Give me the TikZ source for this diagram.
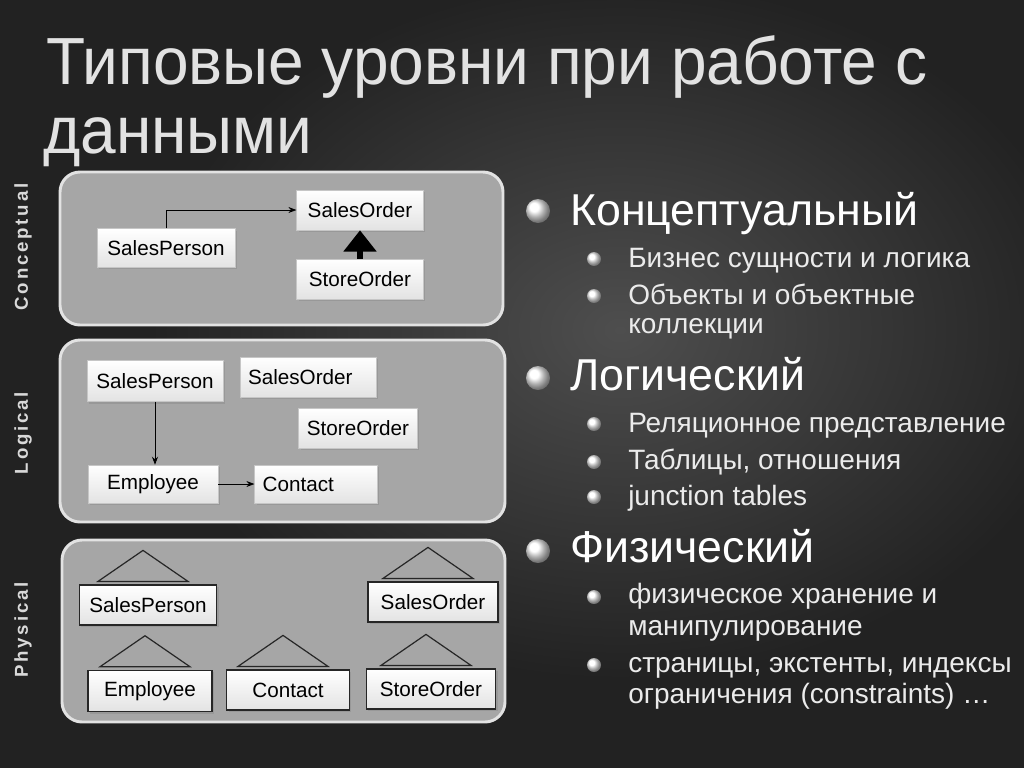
\documentclass[tikz,border=0pt]{standalone}
\usepackage{fontspec}
\setmainfont{Liberation Sans}
\newfontfamily\titlefont[FakeStretch=0.96]{Liberation Sans}
\newfontfamily\sidefont[LetterSpace=15]{Liberation Sans}
\usetikzlibrary{arrows.meta,shadows,calc}
\definecolor{bg}{HTML}{222222}
\definecolor{bglight}{HTML}{4E4E4E}
\definecolor{panelfill}{HTML}{A6A6A6}
\definecolor{panelborder}{HTML}{E2E2E2}
\definecolor{titlegray}{HTML}{E2E2E2}
\tikzset{
  panel/.style={fill=panelfill, draw=panelborder, line width=2.2pt, rounded corners=15pt},
  cls/.style={draw=gray!45, line width=0.4pt, top color=white, bottom color=gray!22,
    drop shadow={opacity=0.35, shadow xshift=1.5pt, shadow yshift=-1.5pt},
    font=\fontsize{15.5}{15.5}\selectfont, inner sep=0pt, minimum width=#1, minimum height=30pt},
  pcls/.style={cls=#1, draw=black!85, line width=0.9pt},
  ltext/.style={text width=#1, align=left},
  tri/.style={draw=black!85, line width=0.9pt, fill=panelfill, line join=miter},
  assoc/.style={-{Stealth[length=6pt,width=4.5pt]}, line width=0.6pt},
  side/.style={rotate=90, font=\sidefont\bfseries\fontsize{14}{14}\selectfont, text=white!85!black},
  lvlone/.style={anchor=base west, inner sep=0pt, text=white, font=\fontsize{33.5}{33.5}\selectfont},
  lvltwo/.style={anchor=base west, inner sep=0pt, text=white!92!black, font=\fontsize{21}{21}\selectfont},
  bigball/.style={ball color=white},
  titletext/.style={anchor=base west, inner sep=0pt, text=titlegray, font=\titlefont\fontsize{50}{50}\selectfont}
}
\begin{document}
\begin{tikzpicture}[x=0.75pt,y=-0.75pt]
\useasboundingbox (0,0) rectangle (1024,768);
\clip (0,0) rectangle (1024,768);
\fill[bg] (0,0) rectangle (1024,768);
\shade[inner color=bglight, outer color=bg] (620,330) ellipse (470 and 350);

% title
\node[titletext] (t1) at (46,84) {Типовые уровни при работе с};
\node[titletext] (t2) at (43,153) {данными};

% side labels
\node[side] (lc) at (23,247) {Conceptual};
\node[side] (ll) at (23,433) {Logical};
\node[side] (lp) at (23,630) {Physical};

% panels
\draw[panel] (60,172) rectangle (503,325);
\draw[panel] (60,340) rectangle (505,522);
\draw[panel] (62,540) rectangle (505,722);

% conceptual
\node[cls=103.5pt, minimum height=29pt] (cSP) at (166,248) {SalesPerson};
\node[cls=95pt] (cSO) at (360,210) {SalesOrder};
\node[cls=95pt] (cSt) at (360,279) {StoreOrder};
\draw[assoc] (cSP.north) |- (cSO.west);
\draw[line width=4pt, -{Triangle[length=16pt,width=24pt]}] (cSt.north) -- (cSO.south);

% logical
\node[cls=102pt, minimum height=31pt] (lSP) at (155,381) {SalesPerson};
\node[cls=102pt, ltext=90pt] (lSO) at (308,377) {SalesOrder};
\node[cls=89pt] (lSt) at (358,428) {StoreOrder};
\node[cls=97.5pt, minimum height=28.5pt] (lEm) at (153,484) {Employee};
\node[cls=92pt, minimum height=28.5pt, ltext=80pt] (lCo) at (316,484) {Contact};
\draw[assoc] (lSP.south) -- (lSP.south |- lEm.north);
\draw[assoc] (lEm.east) -- (lCo.west);

% physical
\node[pcls=103pt] (pSP) at (148,605) {SalesPerson};
\node[pcls=97.5pt] (pSO) at (433,602) {SalesOrder};
\node[pcls=93pt, minimum height=31pt] (pEm) at (150,691) {Employee};
\node[pcls=92pt] (pCo) at (288,690) {Contact};
\node[pcls=97pt] (pSt) at (431,689) {StoreOrder};
\foreach \b in {pSP,pSO,pEm,pCo,pSt}{
  \draw[tri] ($(\b.north)+(-50,-3)$) -- ++(45,-31) -- ++(45,31) -- cycle;
}

% bullets
\shade[bigball] (538,211) circle (12);
\shade[bigball] (538,378) circle (12);
\shade[bigball] (538,551) circle (12);
\foreach \y in {259,296,424,462,497,597,665}{
  \shade[bigball] (594,\y) circle (7);
}

\node[lvlone] (h1) at (570,225) {Концептуальный};
\node[lvltwo] (s11) at (628,267) {Бизнес сущности и логика};
\node[lvltwo] (s12) at (628,304) {Объекты и объектные};
\node[lvltwo] (s12b) at (628,333) {коллекции};
\node[lvlone] (h2) at (570,390) {Логический};
\node[lvltwo] (s21) at (628,432) {Реляционное представление};
\node[lvltwo] (s22) at (628,469) {Таблицы, отношения};
\node[lvltwo] (s23) at (628,505) {junction tables};
\node[lvlone] (h3) at (570,562) {Физический};
\node[lvltwo] (s31) at (628,603) {физическое хранение и};
\node[lvltwo] (s31b) at (628,635) {манипулирование};
\node[lvltwo] (s32) at (628,672) {страницы, экстенты, индексы};
\node[lvltwo] (s32b) at (628,703) {ограничения (constraints) …};
\end{tikzpicture}
\end{document}
